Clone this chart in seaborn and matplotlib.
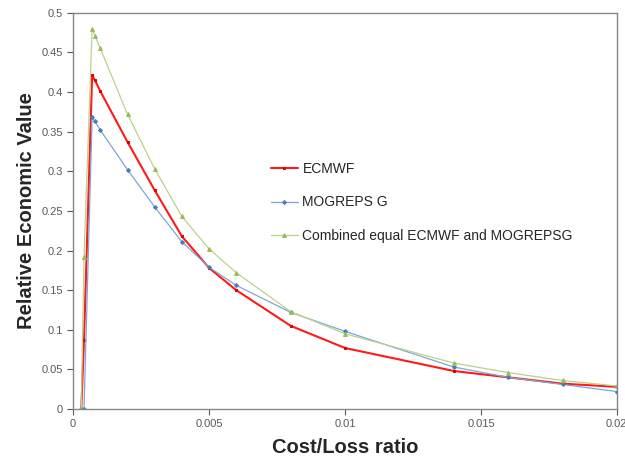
import matplotlib
matplotlib.use('Agg')
import matplotlib.pyplot as plt
import numpy as np
import pandas as pd
import seaborn as sns

# values
cost_loss = [0.0003, 0.0004, 0.0007, 0.0008, 0.001, 0.002, 0.003, 0.004, 0.005,
             0.006, 0.008, 0.01, 0.014, 0.016, 0.018, 0.02]
ecmwf = [0.0, 0.087, 0.421, 0.415, 0.401, 0.337, 0.276, 0.218, 0.178,
         0.150, 0.105, 0.077, 0.048, 0.040, 0.032, 0.028]
mogreps = [0.0, 0.0, 0.368, 0.363, 0.352, 0.302, 0.255, 0.211, 0.179,
           0.156, 0.122, 0.098, 0.053, 0.040, 0.031, 0.022]
combined = [0.0, 0.192, 0.480, 0.471, 0.455, 0.372, 0.303, 0.243, 0.202,
            0.172, 0.123, 0.095, 0.058, 0.046, 0.036, 0.029]
labels = ['ECMWF', 'MOGREPS G', 'Combined equal ECMWF and MOGREPSG']

sns.set_style('white')
plt.rcParams['font.family'] = ['Liberation Sans', 'DejaVu Sans']

fig = plt.figure(figsize=(6.25, 4.57), dpi=100)
ax = fig.add_axes([0.117, 0.105, 0.870, 0.867])

# one line per series
styles = [
    (ecmwf, '#ff1a1a', '#e00000', 's', 1.5, 2.0),
    (mogreps, '#7ea6d8', '#4a7ebb', 'D', 0.9, 2.0),
    (combined, '#b9d38c', '#9bbb59', '^', 0.9, 2.8),
]
for (vals, lc, mc, mk, lw, ms), lab in zip(styles, labels):
    df = pd.DataFrame({'x': cost_loss, 'y': vals})
    sns.lineplot(data=df, x='x', y='y', ax=ax, color=lc, linewidth=lw,
                 marker=mk, markersize=ms, markerfacecolor=mc,
                 markeredgecolor=mc, label=lab)

ax.set_xlim(0, 0.02)
ax.set_ylim(0, 0.5)
ax.set_xticks([0, 0.005, 0.01, 0.015, 0.02])
ax.set_xticklabels(['0', '0.005', '0.01', '0.015', '0.02'])
ax.set_yticks(np.arange(0, 0.51, 0.05))
ax.set_yticklabels(['0', '0.05', '0.1', '0.15', '0.2', '0.25', '0.3', '0.35',
                    '0.4', '0.45', '0.5'])
ax.tick_params(axis='both', labelsize=8, colors='#595959', length=4,
               width=0.8, direction='out', bottom=True, left=True)
for s in ax.spines.values():
    s.set_color('#868686')
    s.set_linewidth(1.0)

ax.set_xlabel('Cost/Loss ratio', fontsize=14.5, fontweight='bold', labelpad=6)
ax.set_ylabel('Relative Economic Value', fontsize=14.5, fontweight='bold',
              labelpad=4)

ax.legend(loc='upper left', bbox_to_anchor=(0.34, 0.655), frameon=False,
          fontsize=10, labelspacing=1.4, handlelength=2.0, handletextpad=0.3)

plt.savefig('out.png', dpi=100)
